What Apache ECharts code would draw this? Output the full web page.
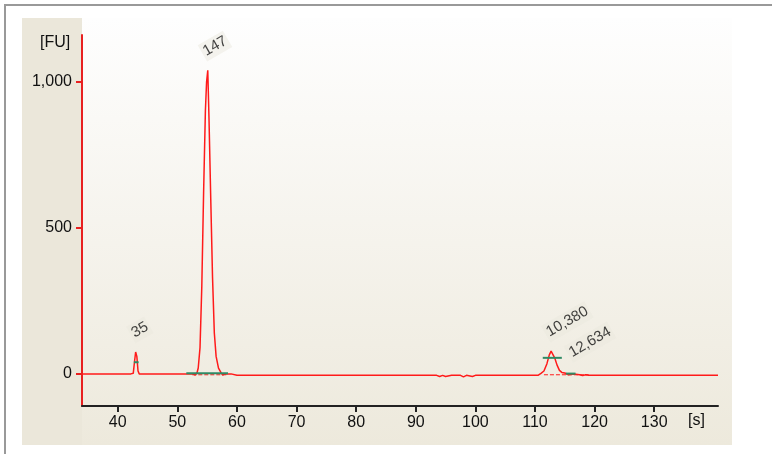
<!DOCTYPE html>
<html><head><meta charset="utf-8">
<script src="https://cdn.jsdelivr.net/npm/echarts@6/dist/echarts.min.js"></script>
<style>html,body{margin:0;padding:0;background:#fff}#c{width:772px;height:454px}</style>
</head><body><div id="c"></div>
<script>
// electropherogram trace: time [s] and fluorescence [FU]
var traceX = [34, 42.2, 42.6, 42.8, 43.0, 43.2, 43.4, 43.6, 43.8, 44.2, 52.0, 52.6, 53.0, 53.3, 53.5, 53.8, 54.1, 54.4, 54.7, 54.9, 55.1, 55.3, 55.6, 55.9, 56.2, 56.5, 56.9, 57.3, 57.6, 58.0, 59.0, 59.3, 60.0,
  93.5, 94.0, 94.5, 95.0, 96.0, 97.5, 98.0, 98.5, 99.5, 100.0, 100.5, 109.5, 110.5, 111.0, 111.5, 112.0, 112.4, 112.7, 113.0, 113.3, 113.7, 114.1, 114.5, 115.0, 115.6, 116.5, 117.5, 118.0, 118.5, 119.0, 140.7];
var traceY = [0, 0, 2, 40, 75, 60, 10, 0, 0, 0, 0, 0, -4, 4, 20, 90, 300, 620, 900, 1000, 1040, 880, 600, 330, 140, 60, 20, 5, -4, 0, 0, -5, -5,
  -5, -9, -5, -9, -5, -5, -10, -5, -9, -5, -5, -5, -5, 2, 10, 35, 65, 78, 72, 55, 30, 12, 5, 3, -3, 0, -3, -6, -3, -5, -5];
var peakX = [43.1, 55.1, 112.7, 116.5];
var peakY = [75, 1040, 78, 8];
var peakNames = ['35', '147', '10,380', '12,634'];
var tickValues = [40, 50, 60, 70, 80, 90, 100, 110, 120, 130];
var yTicks = [0, 500, 1000];

var chart = echarts.init(document.getElementById('c'));
var line = traceX.map(function (x, i) { return [x, traceY[i]]; });
var labels = peakX.map(function (x, i) { return { value: [x, peakY[i]], name: peakNames[i] }; });
var green = '#2f8a64';
var font = 'Liberation Sans Narrow, Liberation Sans';

chart.setOption({
  animation: false,
  graphic: [
    { type: 'rect', z: -10, shape: { x: 5, y: 5, width: 800, height: 460 }, style: { fill: '#fff', stroke: '#999', lineWidth: 2 } },
    { type: 'rect', z: -9, shape: { x: 22, y: 18, width: 710, height: 427 },
      style: { fill: new echarts.graphic.LinearGradient(0, 0, 0, 1, [{ offset: 0, color: '#fefefe' }, { offset: 1, color: '#ede9dc' }]) } },
    { type: 'rect', z: -8, shape: { x: 22, y: 18, width: 60, height: 427 }, style: { fill: '#ebe7da' } },
    { type: 'text', left: 40, top: 35, style: { text: '[FU]', fontSize: 16, fill: '#111', fontFamily: font } },
    { type: 'text', left: 688, top: 413, style: { text: '[s]', fontSize: 16, fill: '#111', fontFamily: font } }
  ],
  grid: { left: 82, right: 54, top: 35, bottom: 48 },
  xAxis: {
    type: 'value', min: 34, max: 140.7,
    axisLine: { onZero: false, lineStyle: { color: '#222', width: 2 } },
    axisTick: { customValues: tickValues, length: 6, lineStyle: { color: '#222', width: 2 } },
    axisLabel: { customValues: tickValues, color: '#111', fontSize: 16, margin: 9, fontFamily: font },
    splitLine: { show: false }
  },
  yAxis: {
    type: 'value', min: -110, max: 1161,
    axisLine: { show: true, lineStyle: { color: '#e82020', width: 2 } },
    axisTick: { show: true, inside: false, customValues: yTicks, length: 6, lineStyle: { color: '#e82020', width: 2 } },
    axisLabel: { customValues: yTicks, color: '#111', fontSize: 16, margin: 10, fontFamily: font,
      formatter: function (v) { return v === 1000 ? '1,000' : String(v); } },
    splitLine: { show: false }
  },
  series: [
    { type: 'line', data: line, symbol: 'none', lineStyle: { color: '#ff1a1a', width: 1.5 }, z: 3 },
    { type: 'line', data: [[51.5, 2], [58.5, 2]], symbol: 'none', lineStyle: { color: green, width: 2 }, z: 4 },
    { type: 'line', data: [[52.5, -3], [58.5, -3]], symbol: 'none', lineStyle: { color: '#ff1a1a', width: 1, type: 'dashed' }, z: 2 },
    { type: 'line', data: [[42.7, 40], [43.5, 40]], symbol: 'none', lineStyle: { color: green, width: 2 }, z: 4 },
    { type: 'line', data: [[111.3, 55], [114.5, 55]], symbol: 'none', lineStyle: { color: green, width: 2 }, z: 4 },
    { type: 'line', data: [[111.5, -3], [119, -3]], symbol: 'none', lineStyle: { color: '#ff1a1a', width: 1, type: 'dashed' }, z: 2 },
    { type: 'line', data: [[115.2, 1], [116.8, 1]], symbol: 'none', lineStyle: { color: green, width: 2 }, z: 4 },
    { type: 'scatter', data: labels, symbolSize: 0, z: 5,
      label: { show: true, position: 'insideBottomLeft', rotate: 30, offset: [-3, -6], formatter: '{b}', fontSize: 15, color: '#111',
        backgroundColor: 'rgba(235,232,222,0.6)', padding: [2, 2], fontFamily: font } }
  ]
});
</script></body></html>
